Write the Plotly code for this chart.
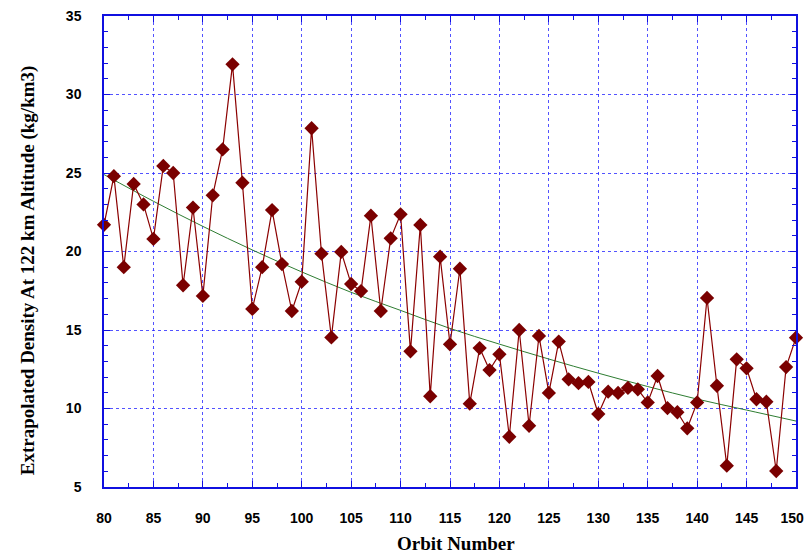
import plotly.graph_objects as go

orbit = list(range(80, 151))
density = [21.7, 24.8, 19.0, 24.3, 23.0, 20.8, 25.45, 25.0, 17.85, 22.8,
           17.17, 23.58, 26.5, 31.92, 24.38, 16.34, 19.0, 22.64, 19.2, 16.21,
           18.08, 27.85, 19.86, 14.53, 19.97, 17.93, 17.48, 22.28, 16.21, 20.84,
           22.37, 13.64, 21.69, 10.78, 19.67, 14.09, 18.9, 10.31, 13.85, 12.45,
           13.45, 8.2, 15.0, 8.9, 14.62, 10.99, 14.26, 11.86, 11.61, 11.69,
           9.65, 11.07, 10.99, 11.31, 11.22, 10.39, 12.07, 10.03, 9.76, 8.74,
           10.39, 17.04, 11.45, 6.36, 13.13, 12.56, 10.59, 10.43, 6.02, 12.64,
           14.51]

trend_x = [80, 85, 90, 95, 100, 105, 110, 115, 120, 125, 130, 135, 140, 145, 150]
trend_y = [24.9, 23.2, 21.6, 20.1, 18.7, 17.4, 16.25, 15.1, 14.1, 13.15, 12.25,
           11.4, 10.6, 9.9, 9.2]

x_ticks = list(range(80, 151, 5))
# last label padded with an invisible digit so it stays inside the page edge
x_tick_labels = [str(v) for v in x_ticks[:-1]] + [
    "150<span style='color:rgba(0,0,0,0)'>0</span>"]
y_ticks = list(range(5, 36, 5))

fig = go.Figure()
fig.add_trace(go.Scatter(
    x=trend_x, y=trend_y, mode="lines", line=dict(color="#2e7d32", width=1, shape="spline"),
    showlegend=False, hoverinfo="skip"))
fig.add_trace(go.Scatter(
    x=orbit, y=density, mode="lines+markers",
    line=dict(color="#8b0000", width=1.2),
    marker=dict(symbol="diamond", size=11, color="#7a0000"),
    cliponaxis=False, showlegend=False))

blue = "#1010e0"
fig.update_xaxes(
    range=[80, 150], tickvals=x_ticks, ticktext=x_tick_labels,
    ticks="inside", ticklen=6, tickcolor=blue,
    showline=True, linecolor=blue, linewidth=1.5, mirror="ticks",
    showgrid=True, gridcolor="rgba(40,40,255,0.8)", griddash="dot", gridwidth=1,
    zeroline=False, ticklabelstandoff=17, automargin=False, ticklabeloverflow="allow",
    tickfont=dict(family="Liberation Sans, Arial", size=14, color="black", weight="bold"),
    minor=dict(dtick=2.5, ticks="inside", ticklen=4, tickcolor=blue, showgrid=False))
fig.update_yaxes(
    range=[5, 35], tickvals=y_ticks, ticks="inside", ticklen=6, tickcolor=blue,
    showline=True, linecolor=blue, linewidth=1.5, mirror="ticks",
    showgrid=True, gridcolor="rgba(40,40,255,0.8)", griddash="dot", gridwidth=1,
    zeroline=False, ticklabelstandoff=18, automargin=False, ticklabeloverflow="allow",
    tickfont=dict(family="Liberation Sans, Arial", size=14, color="black", weight="bold"),
    minor=dict(dtick=1, ticks="inside", ticklen=4, tickcolor=blue, showgrid=False))

fig.update_layout(
    width=805, height=555,
    margin=dict(l=104, r=9, t=16, b=68),
    paper_bgcolor="white", plot_bgcolor="white",
    annotations=[
        dict(text="<b>Orbit Number</b>", x=0.5087, y=-0.121, xref="paper", yref="paper",
             xanchor="center", yanchor="middle", showarrow=False,
             font=dict(family="Liberation Serif, Times New Roman", size=19, color="black")),
        dict(text="<b>Extrapolated Density At 122 km Altitude (kg/km3)</b>",
             x=-0.11, y=0.46, xref="paper", yref="paper", textangle=-90,
             xanchor="center", yanchor="middle", showarrow=False,
             font=dict(family="Liberation Serif, Times New Roman", size=19, color="black")),
    ],
)

# remove the default page margin so the 805x555 figure fills the window exactly
fig.write_html(
    "out.html",
    config={"displayModeBar": False},
    post_script="document.body.style.margin='0';document.body.style.overflow='hidden';")
